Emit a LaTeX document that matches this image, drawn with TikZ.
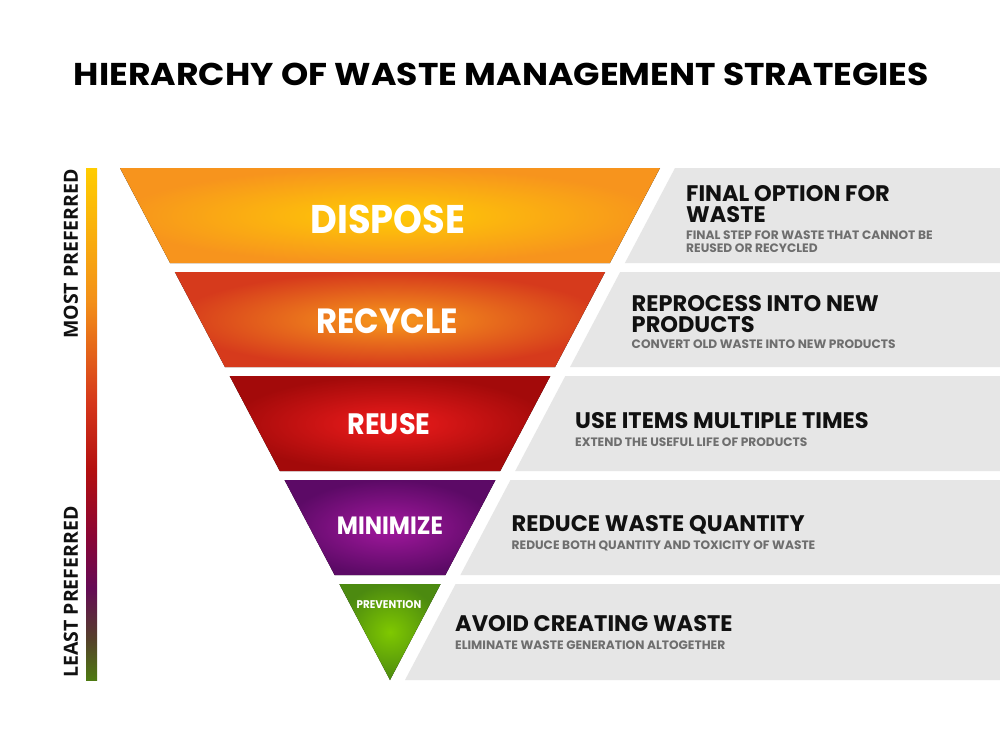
\documentclass[tikz,border=0pt]{standalone}
\usepackage{fontspec}
\newfontfamily\popfont{Poppins}
\newfontfamily\popband[FakeStretch=0.92]{Poppins}
\newfontfamily\popwide[FakeStretch=1.1]{Poppins}
\newfontfamily\sidefont{Open Sans}
\usetikzlibrary{positioning}

\definecolor{dispIn}{HTML}{FFCB05}
\definecolor{dispOut}{HTML}{F7941D}
\definecolor{recIn}{HTML}{F7981C}
\definecolor{recOut}{HTML}{D63A1C}
\definecolor{reuIn}{HTML}{EE1C1C}
\definecolor{reuOut}{HTML}{A30A0A}
\definecolor{minIn}{HTML}{A2189E}
\definecolor{minOut}{HTML}{5C0A66}
\definecolor{preIn}{HTML}{7FC800}
\definecolor{preOut}{HTML}{4C8A10}
\definecolor{panelgrey}{HTML}{E6E6E6}
\definecolor{subgrey}{HTML}{6E6E6E}
\definecolor{headblack}{HTML}{111111}
\definecolor{barGreen}{HTML}{4E7A12}
\definecolor{barBrown}{HTML}{55402A}
\definecolor{barPurple}{HTML}{650A55}
\definecolor{barWine}{HTML}{8A0535}
\definecolor{barRed}{HTML}{B30F0F}
\definecolor{barRust}{HTML}{D5361A}
\definecolor{barOrange}{HTML}{F39019}
\definecolor{barYellow}{HTML}{FFCC00}

% preference bar, bottom (green) to top (yellow)
\pgfdeclareverticalshading{prefbar}{100bp}{color(0bp)=(barGreen); color(25bp)=(barGreen);
  color(29bp)=(barBrown); color(34bp)=(barPurple); color(39bp)=(barWine);
  color(45.5bp)=(barRed); color(52bp)=(barRust); color(62bp)=(barOrange);
  color(75bp)=(barYellow); color(100bp)=(barYellow)}

\begin{document}
\begin{tikzpicture}[x=1pt,y=-1pt,
  bandtext/.style={font=\popband\bfseries,text=white,inner sep=0pt},
  head/.style={font=\popfont\bfseries\fontsize{22.5}{21.5}\selectfont,text=headblack,
    anchor=north west,align=left,inner sep=0pt},
  sub/.style={font=\popfont\bfseries\fontsize{12.2}{13.5}\selectfont,text=subgrey,
    anchor=north west,align=left,inner sep=0pt},
  sidetext/.style={font=\sidefont\bfseries\fontsize{19.5}{20}\selectfont,text=headblack,
    rotate=90,inner sep=0pt},
  panel/.style={fill=panelgrey}]

\useasboundingbox (0,0) rectangle (1000,755);
\fill[white] (0,0) rectangle (1000,755);

\node[font=\popwide\bfseries\fontsize{31.5}{32}\selectfont,inner sep=0pt] (title)
  at (501.5,74) {HIERARCHY OF WASTE MANAGEMENT STRATEGIES};

% Five bands of the funnel, each with its grey panel.
\foreach \yt/\yb/\inn/\out in {168/263/dispIn/dispOut,272/367/recIn/recOut,
  376/471/reuIn/reuOut,480/575/minIn/minOut,584/680/preIn/preOut}
{
  \pgfmathsetmacro{\lt}{120+0.52734*(\yt-168)}
  \pgfmathsetmacro{\rt}{660-0.52734*(\yt-168)}
  \pgfmathsetmacro{\lb}{120+0.52734*(\yb-168)}
  \pgfmathsetmacro{\rb}{660-0.52734*(\yb-168)}
  \fill[panel] (\rt+15,\yt) -- (1000,\yt) -- (1000,\yb) -- (\rb+15,\yb) -- cycle;
  \fill[inner color=\inn,outer color=\out] (\lt,\yt) -- (\rt,\yt) -- (\rb,\yb) -- (\lb,\yb) -- cycle;
}

\node[bandtext,font=\popband\bfseries\fontsize{40}{40}\selectfont] (dispose) at (388,219) {DISPOSE};
\node[bandtext,font=\popband\bfseries\fontsize{35}{36}\selectfont] (recycle) at (387,321.5) {RECYCLE};
\node[bandtext,font=\popband\bfseries\fontsize{29.5}{30}\selectfont] (reuse) at (389,424) {REUSE};
\node[bandtext,font=\popband\bfseries\fontsize{25}{25}\selectfont] (minimize) at (390,526) {MINIMIZE};
\node[bandtext,font=\popband\bfseries\fontsize{11.2}{12}\selectfont] (prevention) at (389,604.5) {PREVENTION};

% Right-hand descriptions.
\node[head] (head-dispose) at (686,185) {FINAL OPTION FOR\\WASTE};
\node[sub] (sub-dispose) at (686,230.5) {FINAL STEP FOR WASTE THAT CANNOT BE\\REUSED OR RECYCLED};
\node[head] (head-recycle) at (631.5,295) {REPROCESS INTO NEW\\PRODUCTS};
\node[sub] (sub-recycle) at (631.5,340) {CONVERT OLD WASTE INTO NEW PRODUCTS};
\node[head] (head-reuse) at (575,412.7) {USE ITEMS MULTIPLE TIMES};
\node[sub] (sub-reuse) at (575,437.3) {EXTEND THE USEFUL LIFE OF PRODUCTS};
\node[head] (head-minimize) at (511.5,515) {REDUCE WASTE QUANTITY};
\node[sub] (sub-minimize) at (511.5,540.7) {REDUCE BOTH QUANTITY AND TOXICITY OF WASTE};
\node[head] (head-prevention) at (455,615) {AVOID CREATING WASTE};
\node[sub] (sub-prevention) at (455,640.7) {ELIMINATE WASTE GENERATION ALTOGETHER};

% Preference scale.
\fill[shading=prefbar] (86,168) rectangle (97,680);
\node[sidetext] (most) at (71,254) {MOST PREFERRED};
\node[sidetext] (least) at (71,592) {LEAST PREFERRED};

\end{tikzpicture}
\end{document}
